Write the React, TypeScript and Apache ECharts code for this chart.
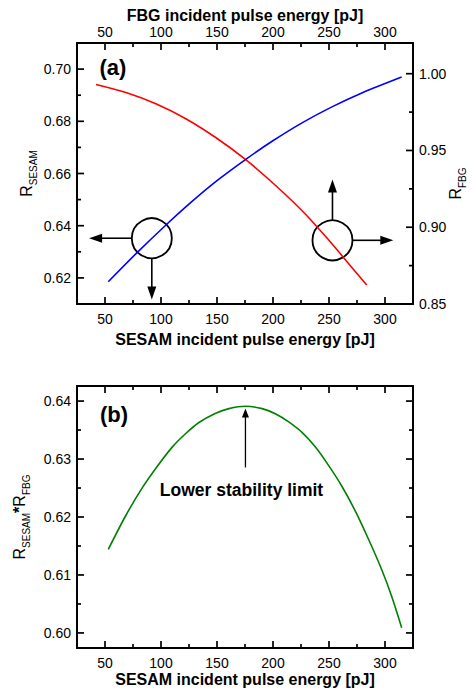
import React, { useEffect, useRef } from 'react';
import * as echarts from 'echarts';

const FONT = "'Liberation Sans', Arial, Helvetica, sans-serif";

// Panel (a): R_SESAM vs SESAM incident pulse energy (left axis)
const sesamEnergyA = [42.0, 68.7, 95.4, 122.1, 148.8, 175.4, 202.1, 228.8, 252.6, 262.9, 283.7];
const rSesam = [0.6941, 0.691, 0.6867, 0.681, 0.6738, 0.6654, 0.6555, 0.6445, 0.6331, 0.6278, 0.6173];

// Panel (a): R_FBG vs FBG incident pulse energy (right / top axes)
const fbgEnergy = [52.9, 79.1, 104.9, 128.0, 151.7, 175.4, 199.2, 225.9, 252.6, 279.3, 314.9];
const rFbg = [0.8645, 0.8838, 0.9018, 0.917, 0.9313, 0.9441, 0.956, 0.968, 0.9784, 0.9875, 0.9979];

// Panel (b): product vs SESAM incident pulse energy
const sesamEnergyB = [52.9, 68.7, 83.5, 96.9, 110.2, 122.1, 133.9, 148.8, 160.6, 175.4, 190.3, 202.1, 214.0, 225.9, 237.7, 249.6, 261.5, 273.3, 285.2, 297.1, 306.0, 314.9];
const rProduct = [0.6144, 0.6203, 0.6251, 0.6288, 0.6321, 0.6344, 0.6363, 0.6379, 0.6387, 0.6391, 0.6387, 0.6378, 0.6364, 0.6346, 0.6321, 0.6289, 0.6253, 0.6211, 0.6162, 0.6109, 0.6063, 0.6009];

// Axis ranges
const X_RANGE = [25, 325];
const YA_RANGE = [0.61, 0.71];
const YR_RANGE = [0.85, 1.02];
const YB_RANGE = [0.5974, 0.6426];

// Tick values
const X_MAJOR_TICKS = [50, 100, 150, 200, 250, 300];
const X_MINOR_TICKS = [75, 125, 175, 225, 275];
const YA_MAJOR_TICKS = [0.62, 0.64, 0.66, 0.68, 0.7];
const YA_MINOR_TICKS = [0.63, 0.65, 0.67, 0.69];
const YR_LABELS = [0.85, 0.9, 0.95, 1.0];
const YR_MAJOR_TICKS = [0.9, 0.95, 1.0];
const YR_MINOR_TICKS = [0.875, 0.925, 0.975];
const YB_MAJOR_TICKS = [0.6, 0.61, 0.62, 0.63, 0.64];
const YB_MINOR_TICKS = [0.605, 0.615, 0.625, 0.635];

// Annotation anchors (data coordinates)
const circleLeft = [91.8, 0.6352];
const circleLeftArrowTipX = 35.8;
const circleLeftArrowTipY = 0.6117;
const circleRight = [253.1, 0.6344];
const circleRightArrowTipY = 0.6577;
const circleRightArrowTipX = 307.4;
const limitArrowX = 175.4;
const limitArrowY = [0.62855, 0.6387];
const limitText = [171.9, 0.62465];
const labelA = [57.1, 0.7008];
const labelB = [58.0, 0.6377];

const zip = (xs: number[], ys: number[]) => xs.map((x, i) => [x, ys[i]]);

const fmtList = (list: number[], dec: number) => (v: number) =>
  list.some((t) => Math.abs(t - v) < 1e-7) ? v.toFixed(dec) : '';

const axisLine = { show: true, onZero: false, lineStyle: { color: '#000', width: 2 } };
const labelStyle = { color: '#000', fontSize: 14, fontFamily: FONT };
const nameStyle = { color: '#000', fontSize: 16, fontWeight: 'bold', fontFamily: FONT };
const richDefs = {
  R: { fontSize: 16, lineHeight: 20, verticalAlign: 'top', fontFamily: FONT, color: '#000', fill: '#000' },
  s: { fontSize: 10, lineHeight: 10, verticalAlign: 'bottom', fontFamily: FONT, color: '#000', fill: '#000' },
  a: { fontSize: 16, lineHeight: 20, verticalAlign: 'top', fontFamily: FONT, color: '#000', fill: '#000', fontWeight: 'bold' },
};
const richName = { color: '#000', fontFamily: FONT, rich: richDefs };

function xAxis(grid: number, pos: string, labels: number[] | null, name: string, nameGap: number, margin: number) {
  return {
    type: 'value', gridIndex: grid, position: pos, min: X_RANGE[0], max: X_RANGE[1], splitNumber: 6,
    axisLine, axisTick: { show: false }, splitLine: { show: false },
    axisLabel: labels
      ? { show: true, margin, formatter: fmtList(labels, 0), showMinLabel: true, showMaxLabel: true, ...labelStyle }
      : { show: false },
    name, nameLocation: 'middle', nameGap, nameMoveOverlap: false, nameTextStyle: nameStyle,
  };
}
function yAxis(grid: number, pos: string, range: number[], splitNumber: number, labels: number[] | null, name?: string, nameGap?: number) {
  return {
    type: 'value', gridIndex: grid, position: pos, min: range[0], max: range[1], splitNumber,
    axisLine, axisTick: { show: false }, splitLine: { show: false },
    axisLabel: labels
      ? { show: true, margin: 6, formatter: fmtList(labels, 2), showMinLabel: true, showMaxLabel: true, ...labelStyle }
      : { show: false },
    ...(name ? { name, nameLocation: 'middle', nameRotate: 90, nameGap, nameMoveOverlap: false, nameTextStyle: richName } : {}),
  };
}

export default function App() {
  const ref = useRef<HTMLDivElement>(null);
  useEffect(() => {
    if (!ref.current) return;
    const chart = echarts.init(ref.current, undefined, { renderer: 'svg' });
    const option: any = {
      animation: false,
      backgroundColor: '#fff',
      grid: [
        { left: 77, top: 43, width: 336, height: 261, containLabel: false, outerBoundsMode: 'none' },
        { left: 77, top: 386, width: 336, height: 262, containLabel: false, outerBoundsMode: 'none' },
      ],
      xAxis: [
        xAxis(0, 'bottom', X_MAJOR_TICKS, 'SESAM incident pulse energy [pJ]', 27, 8),
        xAxis(0, 'top', X_MAJOR_TICKS, 'FBG incident pulse energy [pJ]', 20, 4),
        xAxis(1, 'bottom', X_MAJOR_TICKS, 'SESAM incident pulse energy [pJ]', 23, 8),
        xAxis(1, 'top', null, '', 0, 4),
      ],
      yAxis: [
        yAxis(0, 'left', YA_RANGE, 5, YA_MAJOR_TICKS, '{R|R}{s|SESAM}', 39),
        yAxis(0, 'right', YR_RANGE, 4, YR_LABELS),
        yAxis(1, 'left', YB_RANGE, 5, YB_MAJOR_TICKS, '{R|R}{s|SESAM}{a|*}{R|R}{s|FBG}', 46),
        yAxis(1, 'right', YB_RANGE, 5, null),
      ],
      series: [
        {
          type: 'line', xAxisIndex: 0, yAxisIndex: 0, data: zip(sesamEnergyA, rSesam),
          showSymbol: false, smooth: 0.3, silent: true, lineStyle: { color: '#ff0000', width: 1.6 },
        },
        {
          type: 'line', xAxisIndex: 1, yAxisIndex: 1, data: zip(fbgEnergy, rFbg),
          showSymbol: false, smooth: 0.3, silent: true, lineStyle: { color: '#0000ff', width: 1.6 },
        },
        {
          type: 'line', xAxisIndex: 2, yAxisIndex: 2, data: zip(sesamEnergyB, rProduct),
          showSymbol: false, smooth: 0.3, silent: true, lineStyle: { color: '#008000', width: 1.6 },
        },
      ],
    };
    chart.setOption(option);

    const px = (xi: number, yi: number, pt: number[]) =>
      chart.convertToPixel({ xAxisIndex: xi, yAxisIndex: yi }, pt) as number[];
    const pa = (pt: number[]) => px(0, 0, pt);
    const pb = (pt: number[]) => px(2, 2, pt);

    const els: any[] = [];
    const MAJ = 7, MIN = 4;
    const seg = (x1: number, y1: number, x2: number, y2: number) => {
      els.push({ type: 'line', z: 50, silent: true, shape: { x1, y1, x2, y2 }, style: { stroke: '#000', lineWidth: 1.7 } });
    };

    const panelTicks = (xi: number, yl: number, yr: number, yRangeL: number[],
      yMajL: number[], yMinL: number[], yMajR: number[], yMinR: number[]) => {
      const bl = px(xi, yl, [X_RANGE[0], yRangeL[0]]);
      const tr = px(xi, yl, [X_RANGE[1], yRangeL[1]]);
      const left = bl[0], bottom = bl[1], right = tr[0], top = tr[1];
      const xt = (vals: number[], len: number) => vals.forEach((v) => {
        const x = px(xi, yl, [v, yRangeL[0]])[0];
        seg(x, bottom, x, bottom - len);
        seg(x, top, x, top + len);
      });
      xt(X_MAJOR_TICKS, MAJ);
      xt(X_MINOR_TICKS, MIN);
      const ytL = (vals: number[], len: number) => vals.forEach((v) => {
        const y = px(xi, yl, [X_RANGE[0], v])[1];
        seg(left, y, left + len, y);
      });
      const ytR = (vals: number[], len: number) => vals.forEach((v) => {
        const y = px(xi, yr, [X_RANGE[0], v])[1];
        seg(right, y, right - len, y);
      });
      ytL(yMajL, MAJ);
      ytL(yMinL, MIN);
      ytR(yMajR, MAJ);
      ytR(yMinR, MIN);
      return { left, right, top, bottom };
    };
    const frameA = panelTicks(0, 0, 1, YA_RANGE, YA_MAJOR_TICKS, YA_MINOR_TICKS, YR_MAJOR_TICKS, YR_MINOR_TICKS);
    panelTicks(2, 2, 3, YB_RANGE, YB_MAJOR_TICKS, YB_MINOR_TICKS, YB_MAJOR_TICKS, YB_MINOR_TICKS);

    // right-hand axis title of panel (a), rotated like the left one
    els.push({
      type: 'text', silent: true, rotation: Math.PI / 2,
      x: frameA.right + 44, y: (frameA.top + frameA.bottom) / 2 + 10,
      style: { text: '{R|R}{s|FBG}', rich: richDefs, fill: '#000', fontFamily: FONT, align: 'center', verticalAlign: 'middle' },
    });

    const arrow = (x1: number, y1: number, x2: number, y2: number, head: number, half: number, lw: number) => {
      const dx = x2 - x1, dy = y2 - y1;
      const len = Math.sqrt(dx * dx + dy * dy);
      const ux = dx / len, uy = dy / len;
      const bx = x2 - ux * head, by = y2 - uy * head;
      els.push({ type: 'line', shape: { x1, y1, x2: bx + ux, y2: by + uy }, style: { stroke: '#000', lineWidth: lw }, silent: true });
      els.push({
        type: 'polygon',
        shape: { points: [[x2, y2], [bx - uy * half, by + ux * half], [bx + uy * half, by - ux * half]] },
        style: { fill: '#000', stroke: null }, silent: true,
      });
    };
    const R = 20;
    const c1 = pa(circleLeft);
    els.push({ type: 'circle', shape: { cx: c1[0], cy: c1[1], r: R }, style: { fill: 'none', stroke: '#000', lineWidth: 1.8 }, silent: true });
    const c1l = pa([circleLeftArrowTipX, circleLeft[1]]);
    arrow(c1[0] - R, c1[1], c1l[0], c1[1], 13, 4.5, 1.6);
    const c1d = pa([circleLeft[0], circleLeftArrowTipY]);
    arrow(c1[0], c1[1] + R, c1[0], c1d[1], 13, 4.5, 1.6);

    const c2 = pa(circleRight);
    els.push({ type: 'circle', shape: { cx: c2[0], cy: c2[1], r: R }, style: { fill: 'none', stroke: '#000', lineWidth: 1.8 }, silent: true });
    const c2u = pa([circleRight[0], circleRightArrowTipY]);
    arrow(c2[0], c2[1] - R, c2[0], c2u[1], 13, 4.5, 1.6);
    const c2r = pa([circleRightArrowTipX, circleRight[1]]);
    arrow(c2[0] + R, c2[1], c2r[0], c2[1], 13, 4.5, 1.6);

    const la0 = pb([limitArrowX, limitArrowY[0]]);
    const la1 = pb([limitArrowX, limitArrowY[1]]);
    arrow(la0[0], la0[1], la1[0], la1[1], 9, 3.5, 1.3);

    const lt = pb(limitText);
    els.push({
      type: 'text', x: lt[0], y: lt[1], silent: true,
      style: { text: 'Lower stability limit', fill: '#000', fontSize: 17.5, fontWeight: 'bold', fontFamily: FONT, align: 'center', verticalAlign: 'middle' },
    });
    const ta = pa(labelA);
    els.push({
      type: 'text', x: ta[0], y: ta[1], silent: true,
      style: { text: '(a)', fill: '#000', fontSize: 22, fontWeight: 'bold', fontFamily: FONT, align: 'center', verticalAlign: 'middle' },
    });
    const tb = pb(labelB);
    els.push({
      type: 'text', x: tb[0], y: tb[1], silent: true,
      style: { text: '(b)', fill: '#000', fontSize: 22, fontWeight: 'bold', fontFamily: FONT, align: 'center', verticalAlign: 'middle' },
    });

    chart.setOption({ graphic: { elements: els } });

    return () => chart.dispose();
  }, []);
  return <div ref={ref} style={{ position: 'absolute', left: 0, top: 0, width: 472, height: 690, background: '#fff' }} />;
}
